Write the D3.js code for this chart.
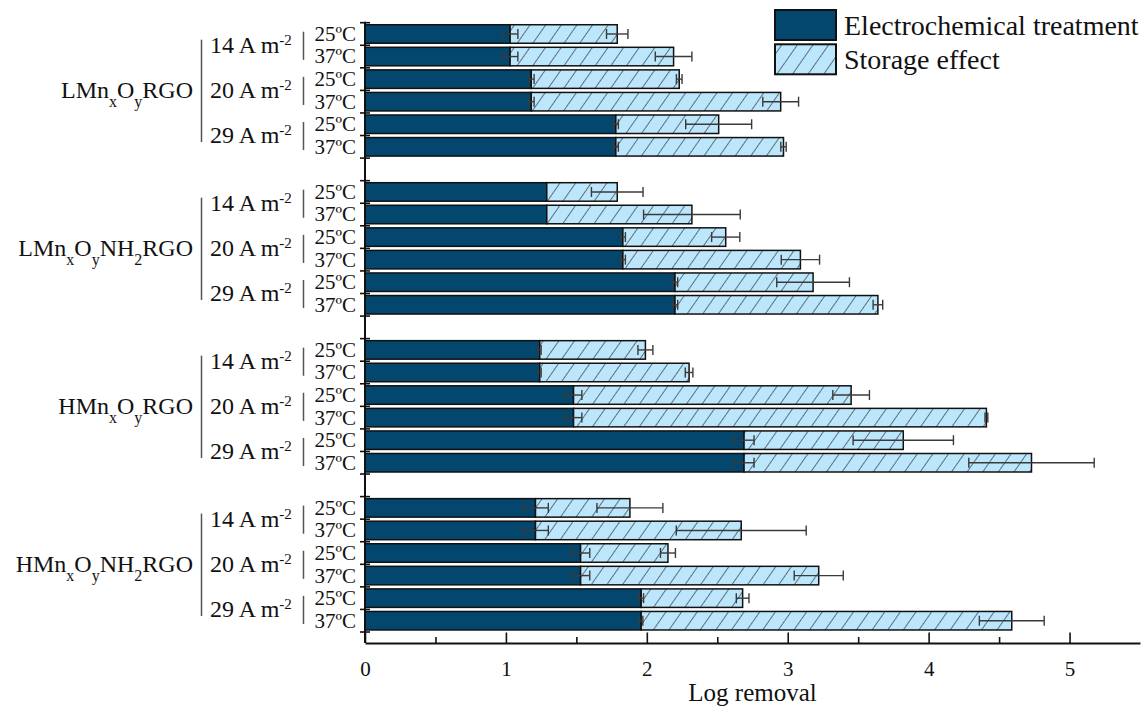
<!DOCTYPE html>
<html>
<head>
<meta charset="utf-8">
<script src="https://cdn.jsdelivr.net/npm/d3@7"></script>
<style>
body { margin: 0; background: #fff; }
text { font-family: "Liberation Serif", "Times New Roman", serif; fill: #111; }
</style>
</head>
<body>
<script>
// group names, split in parts so the subscripts can be drawn
var groupNames = [
  [["LMn"], ["x", "sub"], ["O"], ["y", "sub"], ["RGO"]],
  [["LMn"], ["x", "sub"], ["O"], ["y", "sub"], ["NH"], ["2", "sub"], ["RGO"]],
  [["HMn"], ["x", "sub"], ["O"], ["y", "sub"], ["RGO"]],
  [["HMn"], ["x", "sub"], ["O"], ["y", "sub"], ["NH"], ["2", "sub"], ["RGO"]]
];
var currents = ["14", "20", "29"];
var temps = ["25ºC", "37ºC"];
var seriesNames = ["Electrochemical treatment", "Storage effect"];
var xTicks = [0, 1, 2, 3, 4, 5];

// one value per row: group > current > temperature
var electro    = [1.03, 1.03, 1.18, 1.18, 1.78, 1.78,
                  1.29, 1.29, 1.83, 1.83, 2.20, 2.20,
                  1.24, 1.24, 1.48, 1.48, 2.69, 2.69,
                  1.21, 1.21, 1.53, 1.53, 1.96, 1.96];
var electroErr = [0.055, 0.055, 0.02, 0.02, 0.018, 0.018,
                  0.0, 0.0, 0.018, 0.018, 0.019, 0.019,
                  0.01, 0.01, 0.059, 0.059, 0.071, 0.071,
                  0.091, 0.091, 0.065, 0.065, 0.017, 0.012];
var storage    = [0.76, 1.16, 1.05, 1.77, 0.73, 1.19,
                  0.50, 1.03, 0.73, 1.26, 0.98, 1.44,
                  0.75, 1.06, 1.97, 2.93, 1.13, 2.04,
                  0.67, 1.46, 0.62, 1.69, 0.72, 2.63];
var storageErr = [0.076, 0.13, 0.02, 0.127, 0.234, 0.019,
                  0.183, 0.343, 0.10, 0.136, 0.258, 0.034,
                  0.053, 0.027, 0.13, 0.01, 0.356, 0.445,
                  0.234, 0.461, 0.053, 0.174, 0.045, 0.23];

var darkColor = "#03476f";
var lightColor = "#bce6fb";

var W = 1141, H = 706;
var plotLeft = 365, plotRight = 1140, plotTop = 22.7, axisY = 643, barsBottom = 632;

var svg = d3.select("body").append("svg").attr("width", W).attr("height", H);

// hatch pattern for the storage effect
var defs = svg.append("defs");
var pat = defs.append("pattern")
  .attr("id", "hatch")
  .attr("patternUnits", "userSpaceOnUse")
  .attr("width", 12.8).attr("height", 12.8)
  .attr("patternTransform", "rotate(35)");
pat.append("rect").attr("width", 12.8).attr("height", 12.8).attr("fill", lightColor);
pat.append("line").attr("x1", 0).attr("y1", 0).attr("x2", 0).attr("y2", 12.8)
  .attr("stroke", "#111").attr("stroke-width", 1.1);

// rows
var rows = [];
var keys = [];
groupNames.forEach(function(g, gi) {
  currents.forEach(function(c, ci) {
    temps.forEach(function(t, ti) {
      var i = gi * 6 + ci * 2 + ti;
      var k = gi + "-" + ci + "-" + ti;
      keys.push(k);
      rows.push({key: k, g: gi, c: ci, t: ti, e: electro[i], ee: electroErr[i], s: storage[i], se: storageErr[i]});
    });
  });
  if (gi < groupNames.length - 1) keys.push("gap" + gi);
});

var x = d3.scaleLinear().domain([0, 5.5]).range([plotLeft, plotRight]);
var y = d3.scaleBand().domain(keys).range([plotTop, barsBottom]).paddingInner(0.18).paddingOuter(0.09);
var off = (y.step() - y.bandwidth()) / 2;
function rowTop(k) { return y(k) - off; }
function rowBottom(k) { return y(k) + y.bandwidth() + off; }
function mid(k) { return y(k) + y.bandwidth() / 2; }

// bars
var barG = svg.append("g");
barG.selectAll(".e").data(rows).enter().append("rect")
  .attr("x", x(0)).attr("y", function(d) { return y(d.key); })
  .attr("width", function(d) { return x(d.e) - x(0); })
  .attr("height", y.bandwidth())
  .attr("fill", darkColor).attr("stroke", "#111").attr("stroke-width", 1.5);
barG.selectAll(".s").data(rows).enter().append("rect")
  .attr("x", function(d) { return x(d.e); }).attr("y", function(d) { return y(d.key); })
  .attr("width", function(d) { return x(d.e + d.s) - x(d.e); })
  .attr("height", y.bandwidth())
  .attr("fill", "url(#hatch)").attr("stroke", "#111").attr("stroke-width", 1.5);

// error bars
function errBar(sel, center, err) {
  sel.each(function(d) {
    var g = d3.select(this);
    var c = center(d), e = err(d), ym = mid(d.key);
    if (e <= 0) return;
    g.append("line").attr("x1", x(c - e)).attr("x2", x(c + e)).attr("y1", ym).attr("y2", ym);
    g.append("line").attr("x1", x(c - e)).attr("x2", x(c - e)).attr("y1", ym - 5).attr("y2", ym + 5);
    g.append("line").attr("x1", x(c + e)).attr("x2", x(c + e)).attr("y1", ym - 5).attr("y2", ym + 5);
  });
}
var errG = svg.append("g").attr("stroke", "#3a3a3a").attr("stroke-width", 1.4);
errG.selectAll(".ee").data(rows).enter().append("g")
  .call(errBar, function(d) { return d.e; }, function(d) { return d.ee; });
errG.selectAll(".se").data(rows).enter().append("g")
  .call(errBar, function(d) { return d.e + d.s; }, function(d) { return d.se; });

// y axis: line and ticks on row edges
var yAxisG = svg.append("g").attr("stroke", "#111");
yAxisG.append("line").attr("x1", plotLeft).attr("x2", plotLeft).attr("y1", plotTop - 1).attr("y2", axisY)
  .attr("stroke-width", 2);
var yTickPos = [];
rows.forEach(function(d) {
  yTickPos.push(rowTop(d.key));
  if (d.c == 2 && d.t == 1) yTickPos.push(rowBottom(d.key));
});
yAxisG.selectAll(".yt").data(yTickPos).enter().append("line")
  .attr("x1", plotLeft - 5).attr("x2", plotLeft + 5)
  .attr("y1", function(d) { return d; }).attr("y2", function(d) { return d; })
  .attr("stroke-width", 1.6);

// x axis
var xAxis = d3.axisBottom(x).tickValues(xTicks).tickFormat(d3.format("d"))
  .tickSizeInner(-10.5).tickSizeOuter(0).tickPadding(18);
var xg = svg.append("g").attr("transform", "translate(0," + axisY + ")").call(xAxis);
xg.select(".domain").attr("stroke", "#111").attr("stroke-width", 2);
xg.selectAll(".tick line").attr("stroke", "#111").attr("stroke-width", 1.6);
xg.selectAll(".tick text").attr("font-family", "Liberation Serif").attr("font-size", 21).attr("fill", "#111");
var xMinor = d3.axisBottom(x).tickValues(d3.range(0.5, 5.5, 1)).tickSizeInner(-6).tickSizeOuter(0).tickFormat("");
var xm = svg.append("g").attr("transform", "translate(0," + axisY + ")").call(xMinor);
xm.select(".domain").remove();
xm.selectAll(".tick line").attr("stroke", "#111").attr("stroke-width", 1.6);

svg.append("text").attr("x", (plotLeft + plotRight) / 2).attr("y", 701)
  .attr("text-anchor", "middle").attr("font-size", 25).text("Log removal");

// category labels
var labG = svg.append("g");
rows.forEach(function(d) {
  labG.append("text").attr("x", 356).attr("y", mid(d.key)).attr("dy", "0.33em")
    .attr("text-anchor", "end").attr("font-size", 21).text(temps[d.t]);
});
var sepG = svg.append("g").attr("stroke", "#555").attr("stroke-width", 1.5);
groupNames.forEach(function(g, gi) {
  currents.forEach(function(c, ci) {
    var k0 = gi + "-" + ci + "-0", k1 = gi + "-" + ci + "-1";
    var t0 = rowTop(k0), t1 = rowBottom(k1), cy = (t0 + t1) / 2;
    sepG.append("line").attr("x1", 303.5).attr("x2", 303.5).attr("y1", t0 + 9).attr("y2", t1 - 8);
    var t = labG.append("text").attr("x", 210).attr("y", cy).attr("dy", "0.32em").attr("font-size", 24);
    t.append("tspan").text(c + " A m");
    t.append("tspan").attr("baseline-shift", "super").attr("font-size", 15).text("-2");
  });
  var g0 = rowTop(gi + "-0-0"), g1 = rowBottom(gi + "-2-1"), gy = (g0 + g1) / 2;
  sepG.append("line").attr("x1", 201.5).attr("x2", 201.5).attr("y1", g0 + 17).attr("y2", g1 - 16);
  var gt = labG.append("text").attr("x", 193).attr("y", gy).attr("dy", "0.3em")
    .attr("text-anchor", "end").attr("font-size", 24);
  g.forEach(function(p) {
    var ts = gt.append("tspan").text(p[0]);
    if (p[1] == "sub") ts.attr("baseline-shift", "sub").attr("font-size", 16);
  });
});

// legend
var leg = svg.append("g");
var legFill = [darkColor, "url(#hatch)"];
seriesNames.forEach(function(n, i) {
  var yy = 10 + i * 34.3;
  leg.append("rect").attr("x", 775).attr("y", yy).attr("width", 61).attr("height", 30)
    .attr("fill", legFill[i]).attr("stroke", "#111").attr("stroke-width", 2);
  leg.append("text").attr("x", 844).attr("y", yy + 15).attr("dy", "0.34em")
    .attr("font-size", 28).text(n);
});
</script>
</body>
</html>
